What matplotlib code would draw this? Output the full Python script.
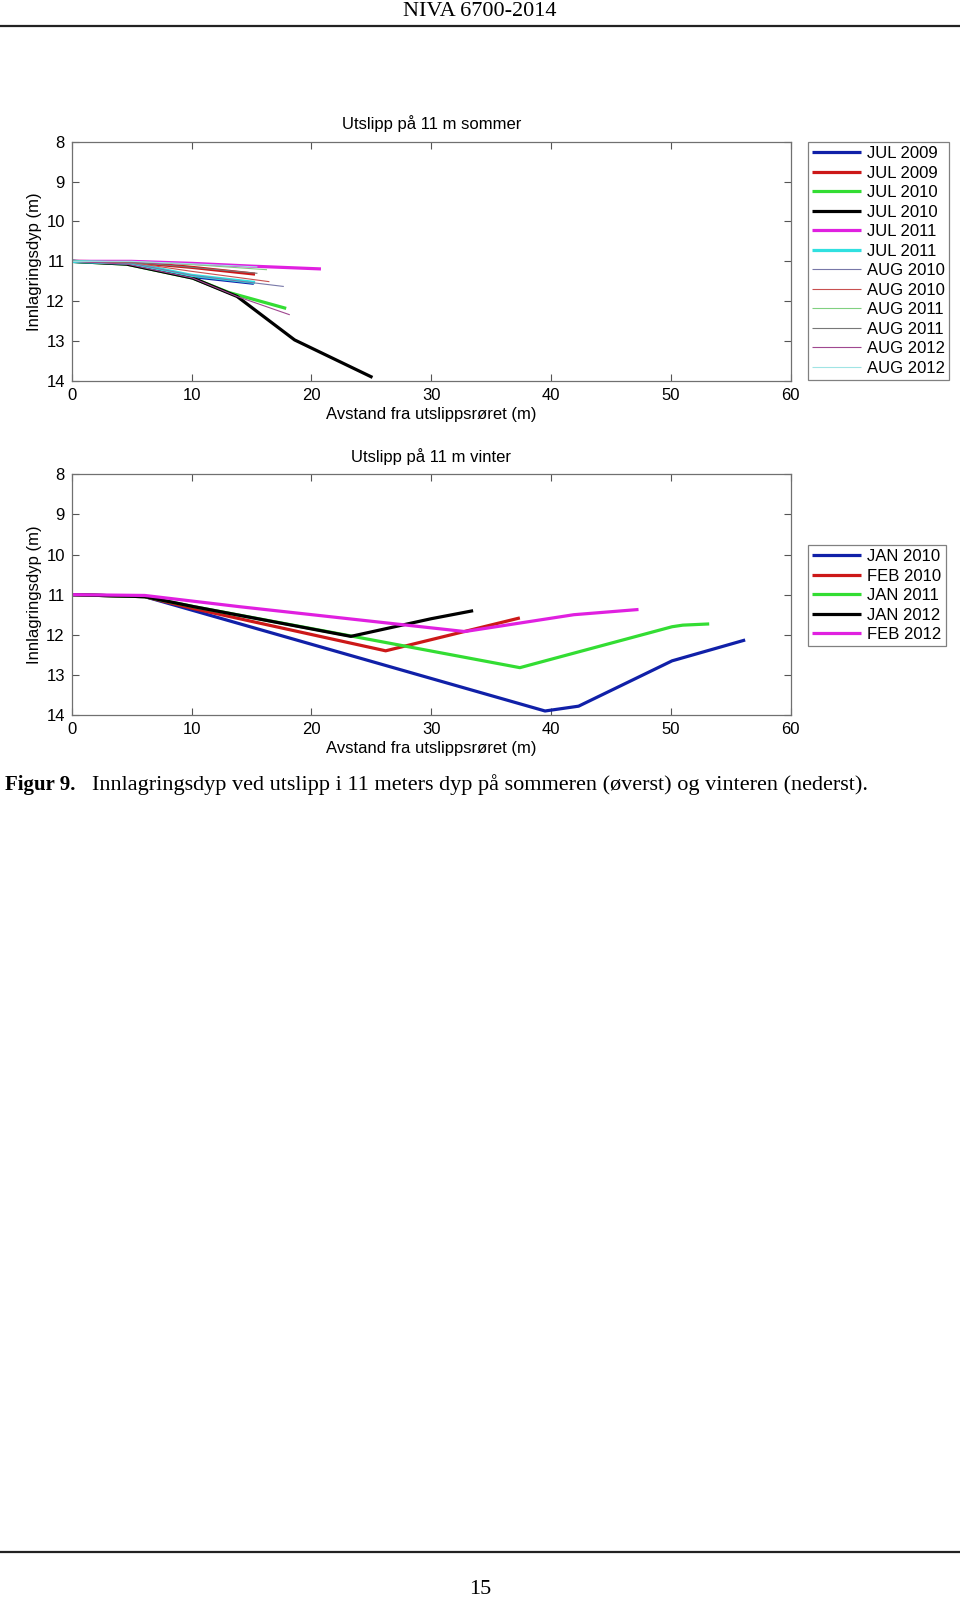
import matplotlib
matplotlib.use('Agg')
from matplotlib import pyplot as plt
from matplotlib.lines import Line2D

# ---- data: summer (Utslipp på 11 m sommer) ----
jul09a_x = [0, 5, 10, 15.2]
jul09a_y = [11.0, 11.05, 11.38, 11.55]
jul09b_x = [0, 5, 10, 15.3]
jul09b_y = [11.0, 11.02, 11.15, 11.32]
jul10a_x = [0, 4.6, 10.1, 13.1, 17.9]
jul10a_y = [11.0, 11.07, 11.42, 11.78, 12.18]
jul10b_x = [0, 4.6, 10.1, 13.8, 18.6, 25.1]
jul10b_y = [11.0, 11.07, 11.42, 11.88, 12.97, 13.91]
jul11a_x = [0, 5, 10, 15, 20.8]
jul11a_y = [11.0, 11.0, 11.05, 11.12, 11.19]
jul11b_x = [0, 5, 10, 15.3]
jul11b_y = [11.0, 11.05, 11.35, 11.53]
aug10a_x = [0, 5, 10, 17.7]
aug10a_y = [11.0, 11.05, 11.35, 11.63]
aug10b_x = [0, 5, 10, 16.5]
aug10b_y = [11.0, 11.03, 11.25, 11.51]
aug11a_x = [0, 5, 10, 16.3]
aug11a_y = [11.0, 11.0, 11.08, 11.21]
aug11b_x = [0, 5, 10, 15.5]
aug11b_y = [11.0, 11.02, 11.15, 11.30]
aug12a_x = [0, 4.6, 10.1, 13.8, 18.2]
aug12a_y = [11.0, 11.07, 11.42, 11.88, 12.34]
aug12b_x = [0, 5, 10, 15.5]
aug12b_y = [11.0, 11.0, 11.06, 11.14]

summer_series = [
    (jul09a_x, jul09a_y, 'JUL 2009', '#1020a8', 3),
    (jul09b_x, jul09b_y, 'JUL 2009', '#cc1818', 3),
    (jul10a_x, jul10a_y, 'JUL 2010', '#33dd33', 3),
    (jul10b_x, jul10b_y, 'JUL 2010', '#000000', 3),
    (jul11a_x, jul11a_y, 'JUL 2011', '#e020e0', 3),
    (jul11b_x, jul11b_y, 'JUL 2011', '#30e0e0', 3),
    (aug10a_x, aug10a_y, 'AUG 2010', '#7878a8', 1),
    (aug10b_x, aug10b_y, 'AUG 2010', '#c85050', 1),
    (aug11a_x, aug11a_y, 'AUG 2011', '#80d080', 1),
    (aug11b_x, aug11b_y, 'AUG 2011', '#787878', 1),
    (aug12a_x, aug12a_y, 'AUG 2012', '#a04890', 1),
    (aug12b_x, aug12b_y, 'AUG 2012', '#a0e4e4', 1),
]

# ---- data: winter (Utslipp på 11 m vinter) ----
jan10_x = [0, 6.1, 10.2, 39.5, 42.3, 50.1, 56.2]
jan10_y = [11.0, 11.05, 11.4, 13.9, 13.78, 12.65, 12.13]
feb10_x = [0, 6.1, 10.2, 26.2, 37.4]
feb10_y = [11.0, 11.05, 11.35, 12.4, 11.58]
jan11_x = [0, 6.1, 10.2, 23.3, 37.4, 50.1, 51.0, 53.2]
jan11_y = [11.0, 11.05, 11.3, 12.03, 12.82, 11.8, 11.76, 11.73]
jan12_x = [0, 6.1, 10.2, 23.3, 30.0, 33.5]
jan12_y = [11.0, 11.05, 11.3, 12.04, 11.6, 11.4]
feb12_x = [0, 6.1, 14.0, 32.8, 41.9, 47.3]
feb12_y = [11.0, 11.02, 11.3, 11.92, 11.5, 11.37]

winter_series = [
    (jan10_x, jan10_y, 'JAN 2010', '#1020a8', 3),
    (feb10_x, feb10_y, 'FEB 2010', '#cc1818', 3),
    (jan11_x, jan11_y, 'JAN 2011', '#33dd33', 3),
    (jan12_x, jan12_y, 'JAN 2012', '#000000', 3),
    (feb12_x, feb12_y, 'FEB 2012', '#e020e0', 3),
]

xticks = [0, 10, 20, 30, 40, 50, 60]
yticks = [8, 9, 10, 11, 12, 13, 14]

W, H = 960, 1597
sans = ['Liberation Sans', 'DejaVu Sans']
serif = ['Liberation Serif', 'DejaVu Serif']
plt.rcParams['font.family'] = sans

fig = plt.figure(figsize=(W / 100, H / 100), dpi=100)


def make_axes(top_px, bottom_px, title, series, leg_top):
    left, right = 71.7, 790.7
    ax = fig.add_axes([left / W, 1 - bottom_px / H, (right - left) / W, (bottom_px - top_px) / H])
    for x, y, lab, col, lw in series:
        ax.plot(x, y, color=col, lw=2.3 if lw > 1 else 0.8, label=lab,
                solid_capstyle='butt')
    ax.set_xlim(0, 60)
    ax.set_ylim(14, 8)
    ax.set_xticks(xticks)
    ax.set_yticks(yticks)
    ax.tick_params(direction='in', length=5, width=0.8, color='#555555',
                   top=True, right=True, labelsize=12, pad=5)
    for s in ax.spines.values():
        s.set_color('#707070')
        s.set_linewidth(0.9)
    ax.set_title(title, fontsize=12, pad=9)
    ax.set_xlabel('Avstand fra utslippsrøret (m)', fontsize=12, labelpad=3)
    ax.set_ylabel('Innlagringsdyp (m)', fontsize=12, labelpad=3)
    leg = ax.legend(loc='upper left', bbox_to_anchor=(808 / W, 1 - leg_top / H),
                    bbox_transform=fig.transFigure, fontsize=12, frameon=True,
                    fancybox=False, edgecolor='#808080', framealpha=1,
                    handlelength=2.9, handletextpad=0.4, labelspacing=0.27,
                    borderpad=0.25, borderaxespad=0)
    leg.get_frame().set_linewidth(0.9)
    return ax


make_axes(141.7, 381.0, 'Utslipp på 11 m sommer', summer_series, 142)
make_axes(474.3, 715.0, 'Utslipp på 11 m vinter', winter_series, 545)

# page header / footer
fig.text(0.5, 1 - 12 / H, 'NIVA 6700-2014', ha='center', va='center',
         fontsize=16, family=serif)
fig.add_artist(Line2D([0, 1], [1 - 26 / H, 1 - 26 / H], color='#222222', lw=1.6))
fig.add_artist(Line2D([0, 1], [1 - 1552 / H, 1 - 1552 / H], color='#222222', lw=1.6))
fig.text(0.5, 1 - 1590 / H, '15', ha='center', va='center', fontsize=16, family=serif)

fig.text(5 / W, 1 - 785 / H, 'Figur 9.', ha='left', va='center', fontsize=15,
         family=serif, fontweight='bold')
fig.text(92 / W, 1 - 785 / H,
         'Innlagringsdyp ved utslipp i 11 meters dyp på sommeren (øverst) og vinteren (nederst).',
         ha='left', va='center', fontsize=16, family=serif)

fig.savefig('out.png', dpi=100)
